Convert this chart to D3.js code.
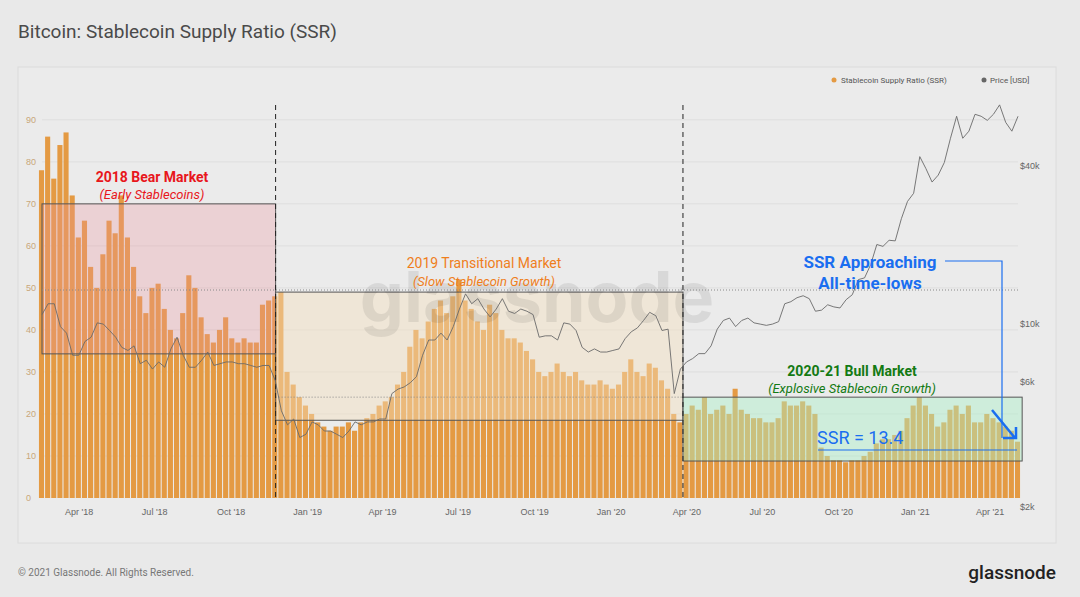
<!DOCTYPE html>
<html><head><meta charset="utf-8">
<script src="https://cdn.jsdelivr.net/npm/d3@7"></script>
<style>body{margin:0;background:#e9e9e9;font-family:Roboto,"Open Sans",sans-serif}</style>
</head><body><svg id="c" width="1080" height="597"></svg>
<script>
// weekly-ish samples, Feb 2018 .. May 2021
var ssr = [78,86, 76,84,87,72, 62,66,55,50, 58,66,63,72,62, 55,48,44,50, 51,45,40,38, 44,53,50,43, 39,37,40,43, 38,37,38,37,37, 46,47,48,49,
  30,27,24,22,20, 18,17,16,17, 17,18,16,18, 19,20,22,23, 24,27,30,36, 40,38,42,45,47, 44,48,52,47, 45,42,40,46, 44,40,38,38, 37,35,33,30, 29,30,32,30, 29,30,28,27, 27,28,27,26,
  27,30,33,30, 29,32,31,28, 26,20,18,20, 22,21,24,20, 21,22,20,26, 21,20,19,19, 18,18,19,23, 22,22,23,22, 20,12,10,9, 9,8.5,9,9, 10,11,13,14, 14,15,16,19,22,
  24,22,20,17, 18,21,22,20, 22,18,18,20, 19,18,17,16, 13.4];
var price = [10000,11000, 11000,9000,8500,7000, 7000,7900,8200,9300, 9200,8700,8200,7500,7300, 7600,6500,6700,6200, 6600,6300,7400,8200, 7000,6300,6300,6700, 7200,6400,6500,6600, 6600,6500,6500,6400,6300, 6400,6400,5600,4300,
  3800,4000,3400,3500,3900, 3800,3600,3600,3500, 3400,3600,3900,3800, 3900,3900,4000,4000, 5000,5200,5300,5500, 5800,7000,8000,8000,8500, 8000,9000,10500,12000, 11000,11500,10500,9800, 10500,11500,10300,10100, 10500,10300,10000,8200, 8300,8300,8000,9300, 9200,8700,7500,7200, 7400,7200,7200,7300,
  7400,8100,8600,8900, 9500,10200,9900,8700, 8800,5000,6200,6600, 6800,7100,7100,7600, 8800,9500,9700,9000, 9500,9700,9300,9200, 9100,9200,9400,11000, 11200,11600,11800,11500, 10300,10400,10900,10700, 10600,11400,11900,13600, 13800,15500,18500,18200, 19200,19100,23200,27000,29000,
  40000,36000,32000,34000, 38000,47000,57000,47000, 50000,58000,57000,55000, 58000,63000,54000,50000, 57000];
var leftTicks = [0,10,20,30,40,50,60,70,80,90];
var rightTicks = [2000,6000,10000,40000];
var startDate = new Date(2018,1,16), endDate = new Date(2021,4,5);

var svg = d3.select("#c");
var X0 = 42, X1 = 1018, Y0 = 498, Y1 = 82;
var x = d3.scaleTime().domain([startDate,endDate]).range([X0,X1]);
var y = d3.scaleLinear().domain([0,99]).range([Y0,Y1]);
var yp = d3.scaleLog().domain([2000,77000]).range([Y0,Y1]);
var n = ssr.length;
var dt = d3.scaleLinear().domain([0,n-1]).range([+startDate,+endDate]);
var dateAt = function(i){ return new Date(dt(i)); };

svg.append("text").attr("x",18).attr("y",38).attr("font-size",19).attr("fill","#4a4a4a").text("Bitcoin: Stablecoin Supply Ratio (SSR)");
svg.append("rect").attr("x",18).attr("y",67).attr("width",1038).attr("height",476).attr("fill","#ebebeb").attr("stroke","#dcdcdc");

// grid
svg.append("g").selectAll("line").data(d3.range(10,100,10)).enter().append("line")
  .attr("x1",X0).attr("x2",X1).attr("y1",function(d){return y(d);}).attr("y2",function(d){return y(d);})
  .attr("stroke","#dedede");

function box(d0,d1,v0,v1,fill){
  svg.append("rect").attr("x",x(d0)).attr("y",y(v1)).attr("width",x(d1)-x(d0)).attr("height",y(v0)-y(v1))
    .attr("fill",fill).attr("stroke","#555").attr("stroke-width",1);
}
var split1 = new Date(2018,10,24), split2 = new Date(2020,2,28);

// bars
var bw = (X1-X0)/n;
svg.append("g").selectAll("rect").data(ssr).enter().append("rect")
  .attr("x",function(d,i){return x(dateAt(i))-bw/2;}).attr("width",bw-1)
  .attr("y",function(d){return y(d);}).attr("height",function(d){return Y0-y(d);})
  .attr("fill","#e49a43");

box(startDate,split1,34.3,70,"rgba(235,150,160,0.3)");
box(split1,split2,18.5,49,"rgba(245,225,190,0.45)");
box(split2,new Date(2021,4,10),8.8,24,"rgba(170,240,200,0.45)");

svg.append("text").attr("x",537).attr("y",322).attr("text-anchor","middle").attr("font-size",70).attr("font-weight","bold")
  .attr("fill","rgba(0,0,0,0.08)").attr("font-family","Inter,sans-serif").text("glassnode");

svg.append("line").attr("x1",X0).attr("x2",X1).attr("y1",y(49.5)).attr("y2",y(49.5)).attr("stroke","#888").attr("stroke-dasharray","1,2");
svg.append("line").attr("x1",x(split1)).attr("x2",x(split2)).attr("y1",y(24)).attr("y2",y(24)).attr("stroke","#888").attr("stroke-dasharray","1,2");

[split1,split2].forEach(function(d){
  svg.append("line").attr("x1",x(d)).attr("x2",x(d)).attr("y1",105).attr("y2",Y0).attr("stroke","#222").attr("stroke-dasharray","5,4");
});

// price line
svg.append("path").datum(price).attr("fill","none").attr("stroke","#6a6a6a").attr("stroke-width",0.9)
  .attr("d",d3.line().x(function(d,i){return x(dateAt(i));}).y(function(d){return yp(d);}));

// axes
var ax = svg.append("g").attr("transform","translate(0,"+(Y0+8)+")")
  .call(d3.axisBottom(x).ticks(d3.timeMonth.every(3)).tickSize(0).tickFormat(function(d){return d3.timeFormat("%b '%y")(d);}));
ax.select(".domain").remove();
ax.selectAll("text").attr("font-size",9).attr("fill","#666");
var al = svg.append("g").attr("transform","translate(35,0)").call(d3.axisLeft(y).tickValues(leftTicks).tickSize(0));
al.select(".domain").remove();
al.selectAll("text").attr("font-size",9).attr("fill","#c9a77a").attr("text-anchor","start").attr("x",-9);
var ar = svg.append("g").attr("transform","translate(1018,0)").call(d3.axisRight(yp).tickValues(rightTicks).tickSize(0).tickFormat(function(d){return "$"+(d/1000)+"k";}));
ar.select(".domain").remove();
ar.selectAll("text").attr("font-size",9).attr("fill","#666").attr("x",2).attr("dy","1.3em");

// legend
svg.append("circle").attr("cx",834).attr("cy",80).attr("r",2.5).attr("fill","#e49a43");
svg.append("text").attr("x",841).attr("y",83).attr("font-size",8).attr("fill","#555").text("Stablecoin Supply Ratio (SSR)");
svg.append("circle").attr("cx",984).attr("cy",80).attr("r",2.5).attr("fill","#666");
svg.append("text").attr("x",990).attr("y",83).attr("font-size",8).attr("fill","#555").text("Price [USD]");

function label(t,cx,cy,col,size,bold,ital){
  svg.append("text").attr("x",cx).attr("y",cy).attr("text-anchor","middle").attr("font-size",size)
    .attr("font-weight",bold?"bold":"normal").attr("font-style",ital?"italic":"normal").attr("fill",col).text(t);
}
label("2018 Bear Market",152,182,"#e8161c",14,true,false);
label("(Early Stablecoins)",152,199,"#e8161c",13,false,true);
label("2019 Transitional Market",484,268,"#ef7e1c",14,false,false);
label("(Slow Stablecoin Growth)",484,286,"#ef7e1c",13,false,true);
label("2020-21 Bull Market",852,376,"#137a13",14,true,false);
label("(Explosive Stablecoin Growth)",852,393,"#137a13",13,false,true);
label("SSR Approaching",870,268,"#1a6ef0",17,true,false);
label("All-time-lows",870,289,"#1a6ef0",17,true,false);
svg.append("text").attr("x",817).attr("y",444).attr("font-size",18).attr("fill","#1a6ef0").text("SSR = 13.4");
svg.append("path").attr("d","M945,261H1002V438").attr("fill","none").attr("stroke","#1a6ef0").attr("stroke-width",1.2);
svg.append("line").attr("x1",818).attr("x2",1017).attr("y1",450).attr("y2",450).attr("stroke","#1a6ef0").attr("stroke-width",1.2);
svg.append("path").attr("d","M992,410L1015,438M1003,438H1016V427").attr("fill","none").attr("stroke","#1a6ef0").attr("stroke-width",2.5);

svg.append("text").attr("x",18).attr("y",576).attr("font-size",10).attr("fill","#777").text("© 2021 Glassnode. All Rights Reserved.");
svg.append("text").attr("x",1056).attr("y",579).attr("text-anchor","end").attr("font-size",19).attr("font-weight",500).attr("fill","#222").text("glassnode");
</script></body></html>
